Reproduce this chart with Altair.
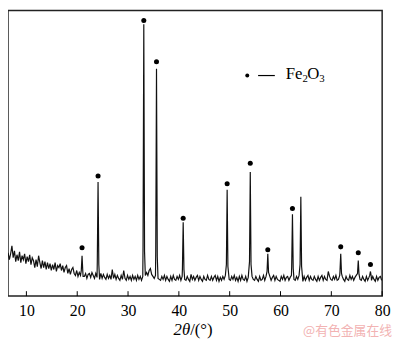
import altair as alt
import pandas as pd

# ---- data (intensity in arbitrary units) ----
base_start = 6.4
base_step = 0.25
baseline_values = [
    44, 37, 43, 51, 39, 46, 35, 42, 36, 45, 34, 41, 37, 43, 33, 40, 35, 42, 32, 39,
    36, 29, 37, 30, 41, 34, 28, 36, 29, 35, 27, 34, 28, 33, 26, 32, 27, 34, 25, 31,
    29, 33, 26, 31, 24, 29, 31, 23, 28, 22, 27, 29, 23, 21, 26, 20, 24, 21, 25, 20,
    20, 23, 18, 22, 23, 19, 24, 21, 18, 23, 19, 22, 17, 23, 18, 22, 19, 17, 22, 18,
    21, 17, 27, 18, 22, 17, 21, 18, 16, 21, 17, 26, 18, 16, 21, 17, 20, 16, 21, 17,
    20, 16, 21, 17, 20, 16, 20, 22, 21, 24, 21, 26, 28, 22, 20, 18, 21, 22, 18, 17,
    16, 20, 17, 21, 16, 20, 17, 15, 20, 16, 21, 17, 16, 20, 17, 21, 16, 20, 21, 17,
    16, 20, 17, 15, 22, 17, 20, 16, 19, 21, 16, 20, 17, 15, 20, 17, 16, 21, 17, 16,
    20, 16, 19, 21, 16, 20, 15, 19, 16, 20, 17, 21, 16, 20, 17, 16, 20, 17, 21, 16,
    19, 15, 20, 16, 21, 17, 16, 20, 15, 19, 21, 16, 20, 17, 16, 20, 17, 15, 20, 16,
    17, 21, 16, 20, 17, 15, 20, 16, 19, 21, 16, 20, 17, 16, 15, 20, 17, 21, 16, 19,
    20, 16, 19, 21, 20, 17, 16, 20, 17, 21, 16, 19, 15, 20, 16, 19, 21, 16, 20, 17,
    16, 20, 17, 15, 20, 16, 19, 21, 16, 20, 17, 16, 25, 20, 17, 16, 20, 17, 21, 16,
    17, 21, 16, 20, 17, 15, 20, 17, 16, 21, 17, 20, 16, 19, 21, 16, 20, 17, 16, 20,
    17, 15, 20, 16, 19, 21, 16, 20, 17, 15, 20, 16, 19, 20, 16,
]
peak_pos = [20.95, 24.1, 33.1, 35.6, 40.85, 49.5, 54.05, 57.5, 62.35, 64.0, 71.85, 75.3, 77.7]
peak_top = [41, 116, 276, 231, 75, 108, 126, 43, 83, 101, 43, 36, 25]
shoulder_left = [26, 35, 50, 45, 28, 32, 35, 25, 30, 32, 25, 23, 21]
shoulder_right = [25, 32, 45, 40, 27, 30, 32, 24, 28, 30, 23, 22, 20]

marker_pos = [20.95, 24.1, 33.1, 35.6, 40.85, 49.5, 54.05, 57.5, 62.35, 71.85, 75.3, 77.7]
marker_val = [49, 122, 280, 238, 79, 114, 135, 47, 89, 50, 44, 32]

tick_values = [10, 20, 30, 40, 50, 60, 70, 80]

# ---- build table ----
rows = []
for i, v in enumerate(baseline_values):
    x = round(base_start + base_step * i, 2)
    if min(abs(x - p) for p in peak_pos) < 0.17:
        continue
    rows.append((x, v))
for p, t, sl, sr in zip(peak_pos, peak_top, shoulder_left, shoulder_right):
    rows.append((round(p - 0.15, 3), sl))
    rows.append((p, t))
    rows.append((round(p + 0.15, 3), sr))
spec = pd.DataFrame(rows, columns=["x", "y"]).sort_values("x").reset_index(drop=True)

markers = pd.DataFrame({"x": marker_pos, "y": marker_val})
ticks = pd.DataFrame({"x": tick_values})

W, H = 380, 290
xscale = alt.Scale(domain=[6.38, 80], nice=False, zero=False)
yscale = alt.Scale(domain=[0, 290], nice=False, zero=False)
SERIF = "Liberation Serif"

line = alt.Chart(spec).mark_line(color="#111111", strokeWidth=1.2, clip=True).encode(
    x=alt.X("x:Q", scale=xscale,
            axis=alt.Axis(values=tick_values, title=None, grid=False, domain=False,
                          ticks=False, labelPadding=7, labelFont=SERIF,
                          labelFontSize=16, labelColor="black", labelFlush=False)),
    y=alt.Y("y:Q", scale=yscale, axis=None),
)

dots = alt.Chart(markers).mark_circle(color="black", opacity=1, size=26).encode(
    x=alt.X("x:Q", scale=xscale), y=alt.Y("y:Q", scale=yscale)
)

tick_rules = alt.Chart(ticks).mark_rule(color="black", strokeWidth=1).encode(
    x=alt.X("x:Q", scale=xscale), y=alt.value(H), y2=alt.value(H - 5)
)

def txt(s, x, y, size, align="left", style="normal", font=SERIF, color="black"):
    return alt.Chart(pd.DataFrame({"t": [s]})).mark_text(
        align=align, baseline="middle", fontSize=size, font=font,
        fontStyle=style, color=color
    ).encode(x=alt.value(x), y=alt.value(y), text="t:N")

one = pd.DataFrame({"a": [0]})
leg_dot = alt.Chart(one).mark_circle(color="black", opacity=1, size=16).encode(
    x=alt.value(243), y=alt.value(66)
)
leg_line = alt.Chart(one).mark_rule(color="black", strokeWidth=1.2).encode(
    x=alt.value(254), x2=alt.value(271), y=alt.value(66)
)

layers = [
    line, tick_rules, dots, leg_dot, leg_line,
    txt("Fe", 282, 65, 17),
    txt("2", 299, 70, 11),
    txt("O", 304, 65, 17),
    txt("3", 316, 70, 11),
    txt("2θ", 185, 325, 17, align="right", style="italic"),
    txt("/(°)", 185, 325, 17),
    txt("@有色金属在线", 390, 325, 13, align="right", font="Noto Sans CJK SC", color="#f2b3b3"),
]

chart = alt.layer(*layers).properties(
    width=W, height=H, padding=0, background="white"
).configure_view(stroke="#222222", strokeWidth=1.5)

chart.save("out.html", embed_options={"renderer": "svg", "actions": False})
